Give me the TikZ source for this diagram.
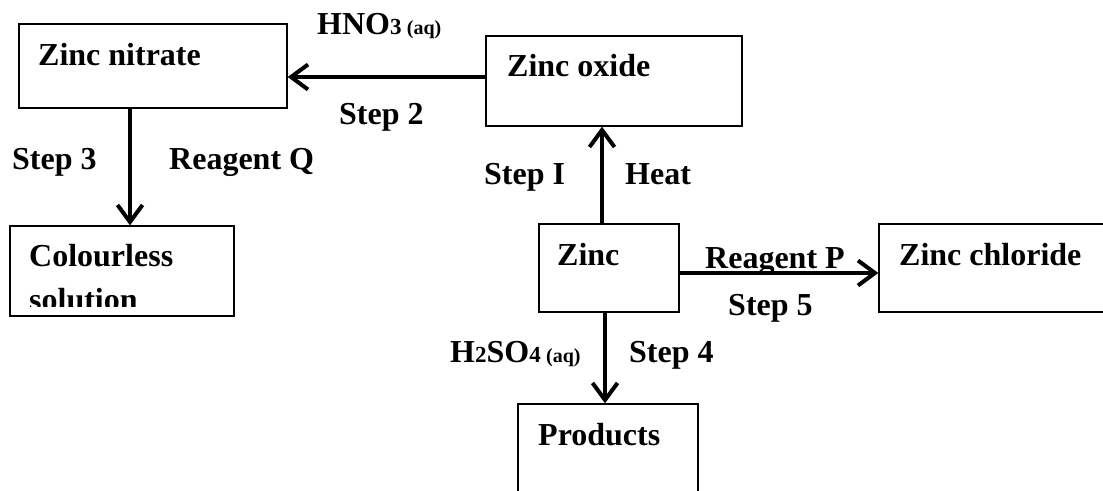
\documentclass[tikz,border=0pt]{standalone}
\usepackage{fontspec}
\setmainfont{Liberation Serif}
\usetikzlibrary{arrows.meta,positioning}
\tikzset{
  box/.style={draw=black, line width=1.3pt, inner sep=0pt},
  arrow/.style={-{Straight Barb[length=17pt,width=25pt,line width=4pt]}, line width=4pt},
  lbl/.style={font=\fontsize{32}{38}\selectfont\bfseries, inner sep=0pt, anchor=base west}
}
\newcommand{\smalldig}[1]{{\fontsize{23}{23}\selectfont #1}}
\newcommand{\aqstate}{{\fontsize{20}{20}\selectfont (aq)}}

\begin{document}
\begin{tikzpicture}[x=1pt, y=-1pt]
\clip (0,0) rectangle (1103,490);
\fill[white] (0,0) rectangle (1103,490);
% boxes
\node[box, minimum width=268pt, minimum height=84pt] (nitrate) at (153,66) {};
\node[box, minimum width=256pt, minimum height=90pt] (oxide) at (614,81) {};
\node[box, minimum width=224pt, minimum height=90pt] (colourless) at (122,271) {};
\node[box, minimum width=140pt, minimum height=88pt] (zinc) at (609,268) {};
\node[box, minimum width=250pt, minimum height=88pt] (chloride) at (1004,268) {};
\node[box, minimum width=180pt, minimum height=100pt] (products) at (608,454) {};
% box texts
\node[lbl] (tnitrate) at (38,65) {Zinc nitrate};
\node[lbl] (toxide) at (507,76) {Zinc oxide};
\node[lbl] (tzinc) at (557,265) {Zinc};
\node[lbl] (tchloride) at (899,265) {Zinc chloride};
\node[lbl] (tproducts) at (538,445) {Products};
\node[lbl] (tcolourless) at (29,266) {Colourless};
\begin{scope}
  \clip (12,228) rectangle (232,306);
  \node[lbl] (tsolution) at (29,310) {solution};
\end{scope}
% arrows
\draw[arrow] ([yshift=4pt]oxide.west) -- ([yshift=4pt]oxide.west -| nitrate.east);
\draw[arrow] ([xshift=-23pt]nitrate.south) -- ([xshift=-23pt]nitrate.south |- colourless.north);
\draw[arrow] ([xshift=-7pt]zinc.north) -- ([xshift=-7pt]zinc.north |- oxide.south);
\draw[arrow] ([yshift=-5pt]zinc.east) -- ([yshift=-5pt]zinc.east -| chloride.west);
\draw[arrow] ([xshift=-4pt]zinc.south) -- ([xshift=-4pt]zinc.south |- products.north);
% arrow labels
\node[lbl] (hno) at (317,34) {HNO\smalldig{3}\,\aqstate};
\node[lbl] (step2) at (339,124) {Step 2};
\node[lbl] (step3) at (12,169) {Step 3};
\node[lbl] (reagq) at (169,169) {Reagent Q};
\node[lbl] (step1) at (484,184) {Step I};
\node[lbl] (heat) at (625,184) {Heat};
\node[lbl] (reagp) at (705,268) {Reagent P};
\node[lbl] (step5) at (728,315) {Step 5};
\node[lbl] (hso) at (450,362) {H\smalldig{2}SO\smalldig{4}\,\aqstate};
\node[lbl] (step4) at (629,362) {Step 4};
\end{tikzpicture}
\end{document}
